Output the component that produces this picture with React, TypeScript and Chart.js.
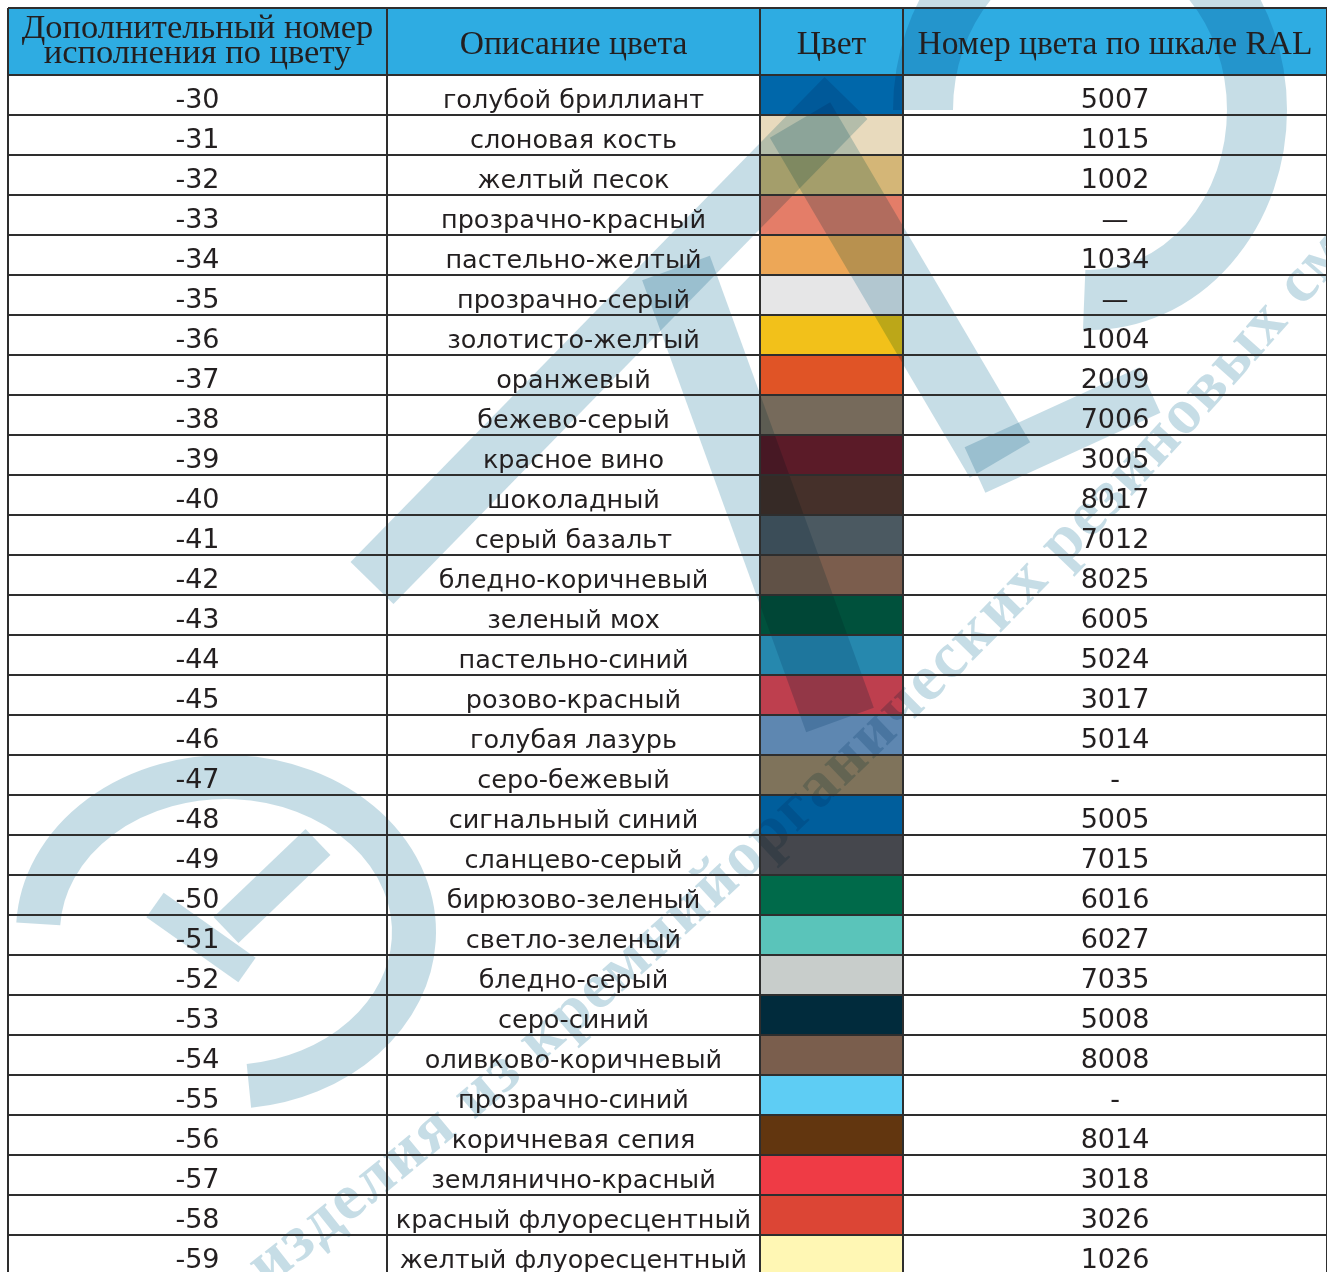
import React, { useEffect, useRef } from "react";
import { Chart, registerables } from "chart.js";

Chart.register(...registerables);

// ---------- data ----------
const codes = [
  "-30", "-31", "-32", "-33", "-34", "-35", "-36", "-37", "-38", "-39",
  "-40", "-41", "-42", "-43", "-44", "-45", "-46", "-47", "-48", "-49",
  "-50", "-51", "-52", "-53", "-54", "-55", "-56", "-57", "-58", "-59",
];

const descriptions = [
  "голубой бриллиант", "слоновая кость", "желтый песок", "прозрачно-красный",
  "пастельно-желтый", "прозрачно-серый", "золотисто-желтый", "оранжевый",
  "бежево-серый", "красное вино", "шоколадный", "серый базальт",
  "бледно-коричневый", "зеленый мох", "пастельно-синий", "розово-красный",
  "голубая лазурь", "серо-бежевый", "сигнальный синий", "сланцево-серый",
  "бирюзово-зеленый", "светло-зеленый", "бледно-серый", "серо-синий",
  "оливково-коричневый", "прозрачно-синий", "коричневая сепия",
  "землянично-красный", "красный флуоресцентный", "желтый флуоресцентный",
];

const swatches = [
  "#0067AA", "#E8DABD", "#D4B677", "#E47D68", "#EDA757", "#E6E6E7",
  "#F2C11A", "#E05426", "#766A5B", "#5B1B28", "#45302A", "#4B5961",
  "#7B5D4D", "#00513C", "#2688AE", "#BE3F4E", "#5E87B1", "#7F735B",
  "#005E9C", "#45474D", "#006A4A", "#5AC4BA", "#C8CDCB", "#012B3C",
  "#7A5E4D", "#5ECDF4", "#62360F", "#EF3B45", "#DC4535", "#FFF7B4",
];

const ralNumbers = [
  "5007", "1015", "1002", "—", "1034", "—", "1004", "2009", "7006", "3005",
  "8017", "7012", "8025", "6005", "5024", "3017", "5014", "-", "5005", "7015",
  "6016", "6027", "7035", "5008", "8008", "-", "8014", "3018", "3026", "1026",
];

const headerLines = [
  ["Дополнительный номер", "исполнения по цвету"],
  ["Описание цвета"],
  ["Цвет"],
  ["Номер цвета по шкале RAL"],
];

const watermarkText = "изделия из кремнийорганических резиновых смесей";

// ---------- layout / style constants ----------
const W = 1327;
const H = 1275;
const COL_EDGES = [0, 379, 752, 895, 1319]; // x-scale units
const HEADER_TOP = 8;
const HEADER_BOTTOM = 75;
const LINE = "#2e2e2e";
const TEXT = "#231f20";
const HEADER_BG = "#2eace2";
const WM = "rgb(198,221,230)";
const NUM_FONT = "27px 'DejaVu Sans'";
const DESC_FONT = "25.5px 'DejaVu Sans'";
const HEAD_FONT = "33.5px 'Liberation Serif'";
const HEAD_FONT_SMALL = "34.5px 'Liberation Serif'";

const deg = (d: number) => (d * Math.PI) / 180;

function drawWatermark(ctx: CanvasRenderingContext2D) {
  ctx.save();
  ctx.globalCompositeOperation = "multiply";
  ctx.strokeStyle = WM;
  ctx.fillStyle = WM;
  ctx.lineCap = "butt";

  const band = (x1: number, y1: number, x2: number, y2: number, w: number) => {
    ctx.lineWidth = w;
    ctx.beginPath();
    ctx.moveTo(x1, y1);
    ctx.lineTo(x2, y2);
    ctx.stroke();
  };

  // "Э"
  ctx.lineWidth = 44;
  ctx.beginPath();
  ctx.ellipse(226, 932, 188, 155, 0, deg(-177), deg(83));
  ctx.stroke();
  band(318, 842, 226, 930, 36);
  band(155, 905, 247, 970, 30);

  // "Л"
  band(372, 583, 846, 98, 60);
  band(676, 268, 840, 720, 72);
  band(800, 120, 1000, 460, 70);
  band(975, 470, 1150, 390, 50);

  // "З"
  ctx.lineWidth = 60;
  ctx.beginPath();
  ctx.ellipse(1090, 110, 167, 190, 0, deg(-180), deg(92));
  ctx.stroke();

  // text along a gentle arc
  ctx.font = "bold 65px 'Liberation Serif'";
  ctx.textAlign = "center";
  ctx.textBaseline = "alphabetic";
  const cx = -4441;
  const cy = -4723;
  const rb = 7635;
  let a = deg(51.94);
  for (const ch of watermarkText) {
    const w = ctx.measureText(ch).width + 2;
    const mid = a - w / 2 / rb;
    ctx.save();
    ctx.translate(cx + rb * Math.cos(mid), cy + rb * Math.sin(mid));
    ctx.rotate(mid - Math.PI / 2);
    ctx.fillText(ch, 0, 0);
    ctx.restore();
    a -= w / rb;
  }
  ctx.restore();
}

const tablePlugin = {
  id: "tablePlugin",
  beforeDraw(chart: any) {
    const { ctx } = chart;
    ctx.save();
    ctx.fillStyle = "#ffffff";
    ctx.fillRect(0, 0, chart.width, chart.height);
    const xs = chart.scales.x;
    ctx.fillStyle = HEADER_BG;
    const left = xs.getPixelForValue(COL_EDGES[0]);
    const right = xs.getPixelForValue(COL_EDGES[COL_EDGES.length - 1]);
    ctx.fillRect(left, HEADER_TOP, right - left, HEADER_BOTTOM - HEADER_TOP);
    ctx.restore();
  },
  afterDatasetsDraw(chart: any) {
    const { ctx, chartArea } = chart;
    const xs = chart.scales.x;
    const ys = chart.scales.y;
    const n = codes.length;
    const rowH = (chartArea.bottom - chartArea.top) / n;

    drawWatermark(ctx);

    // grid lines
    ctx.save();
    ctx.strokeStyle = LINE;
    ctx.lineWidth = 2;
    ctx.beginPath();
    const left = xs.getPixelForValue(COL_EDGES[0]);
    const right = xs.getPixelForValue(COL_EDGES[COL_EDGES.length - 1]);
    ctx.moveTo(left, HEADER_TOP);
    ctx.lineTo(right, HEADER_TOP);
    ctx.moveTo(left, chartArea.top);
    ctx.lineTo(right, chartArea.top);
    for (let i = 0; i < n; i++) {
      const yb = ys.getPixelForValue(i) + rowH / 2;
      ctx.moveTo(left, yb);
      ctx.lineTo(right, yb);
    }
    for (let k = 0; k < COL_EDGES.length; k++) {
      const x = xs.getPixelForValue(COL_EDGES[k]);
      ctx.moveTo(x, HEADER_TOP);
      ctx.lineTo(x, chart.height);
    }
    ctx.stroke();
    ctx.restore();

    // texts
    ctx.save();
    ctx.fillStyle = TEXT;
    ctx.textAlign = "center";
    ctx.textBaseline = "alphabetic";
    const colCenter = (k: number) =>
      (xs.getPixelForValue(COL_EDGES[k]) + xs.getPixelForValue(COL_EDGES[k + 1])) / 2;

    // header
    headerLines.forEach((lines, k) => {
      if (lines.length === 2) {
        ctx.font = HEAD_FONT_SMALL;
        ctx.fillText(lines[0], colCenter(k), 38);
        ctx.fillText(lines[1], colCenter(k), 63);
      } else {
        ctx.font = HEAD_FONT;
        ctx.fillText(lines[0], colCenter(k), 54);
      }
    });

    // body
    for (let i = 0; i < n; i++) {
      const yc = ys.getPixelForValue(i) + 13;
      ctx.font = NUM_FONT;
      ctx.fillText(codes[i], colCenter(0), yc);
      ctx.fillText(ralNumbers[i], colCenter(3), yc);
      ctx.font = DESC_FONT;
      ctx.fillText(descriptions[i], colCenter(1), yc);
    }
    ctx.restore();
  },
};

export default function App() {
  const ref = useRef<HTMLCanvasElement | null>(null);
  useEffect(() => {
    if (!ref.current) return;
    const chart = new Chart(ref.current, {
      type: "bar",
      data: {
        labels: codes,
        datasets: [
          {
            data: codes.map(() => [COL_EDGES[2], COL_EDGES[3]]) as any,
            backgroundColor: swatches,
            borderWidth: 0,
            barPercentage: 1,
            categoryPercentage: 1,
          },
        ],
      },
      options: {
        indexAxis: "y",
        animation: false,
        responsive: false,
        maintainAspectRatio: false,
        devicePixelRatio: 1,
        layout: { padding: { left: 8, top: HEADER_BOTTOM, right: 0, bottom: 0 } },
        scales: {
          x: { type: "linear", min: COL_EDGES[0], max: COL_EDGES[COL_EDGES.length - 1], display: false },
          y: { type: "category", display: false, offset: true },
        },
        plugins: { legend: { display: false }, tooltip: { enabled: false } },
        events: [],
      },
      plugins: [tablePlugin],
    });
    return () => chart.destroy();
  }, []);

  return (
    <div style={{ position: "fixed", left: 0, top: 0, width: W, height: H }}>
      <canvas ref={ref} width={W} height={H} style={{ display: "block" }} />
    </div>
  );
}
